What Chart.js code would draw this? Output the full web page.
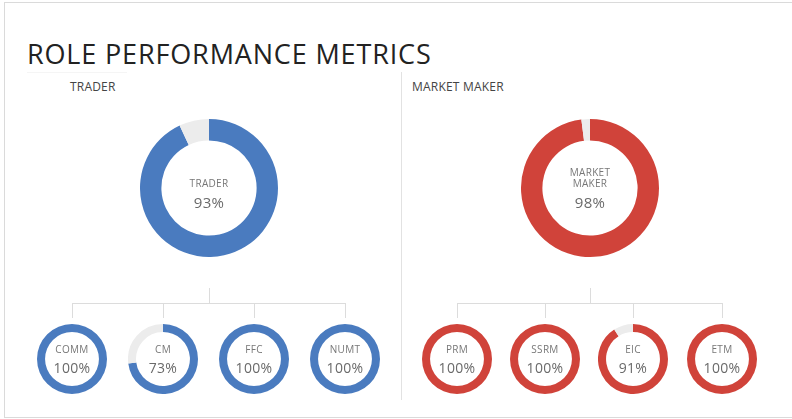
<!DOCTYPE html>
<html>
<head>
<meta charset="utf-8">
<script src="https://cdn.jsdelivr.net/npm/chart.js@4.4.0/dist/chart.umd.min.js"></script>
<style>
  html, body { margin: 0; padding: 0; background: #fff; }
  body { width: 792px; height: 419px; position: relative; overflow: hidden; font-family: "Open Sans", Lato, sans-serif; }
  .frame { position: absolute; left: 4px; top: 2px; width: 800px; height: 414px; border: 1px solid #dadada; }
  .title { position: absolute; left: 27px; top: 35px; font-size: 27px; color: #222; letter-spacing: 0.85px; white-space: nowrap; }
  .role { position: absolute; top: 78px; font-size: 12px; color: #444; letter-spacing: 0.2px; white-space: nowrap; }
  .line { position: absolute; background: #dcdcdc; }
  .donut { position: absolute; }
  .txt { position: absolute; transform: translate(-50%, -50%); text-align: center; white-space: nowrap; color: #707070; line-height: 10px; letter-spacing: 0.3px; }
</style>
</head>
<body>
<div class="frame"></div>
<div class="title">ROLE PERFORMANCE METRICS</div>
<div class="line" style="left:27px;top:72px;width:100px;height:1px;background:#f5f5f5"></div>
<div class="line" style="left:401px;top:72px;width:1px;height:328px;background:#e2e2e2"></div>
<div class="role" style="left:70px">TRADER</div>
<div class="role" style="left:412px">MARKET MAKER</div>
<div id="stage"></div>

<script>
// data
var roles = ["TRADER", "MARKET MAKER"];
var roleCenterLabel = [["TRADER"], ["MARKET", "MAKER"]];
var roleValues = [93, 98];
var roleColors = ["#4a7bbf", "#d0433a"];

var traderLabels = ["COMM", "CM", "FFC", "NUMT"];
var traderValues = [100, 73, 100, 100];
var makerLabels = ["PRM", "SSRM", "EIC", "ETM"];
var makerValues = [100, 100, 91, 100];

var restColor = "#ececec";

// layout
var bigX = [209, 590];
var bigY = 188;
var bigR = 69;
var smallX = [[72, 163, 254, 345], [457, 545, 633, 722]];
var smallY = 359;
var smallR = 35;

var stage = document.getElementById("stage");

function addDiv(cls, style, html) {
  var d = document.createElement("div");
  d.className = cls;
  d.setAttribute("style", style);
  if (html) d.innerHTML = html;
  stage.appendChild(d);
  return d;
}

function makeDonut(cx, cy, r, value, color, cutout) {
  var wrap = addDiv("donut", "left:" + (cx - r) + "px;top:" + (cy - r) + "px;width:" + (2 * r) + "px;height:" + (2 * r) + "px");
  var c = document.createElement("canvas");
  c.width = 2 * r;
  c.height = 2 * r;
  wrap.appendChild(c);
  new Chart(c.getContext("2d"), {
    type: "doughnut",
    data: {
      labels: ["value", "rest"],
      datasets: [{
        data: [value, 100 - value],
        backgroundColor: [color, restColor],
        borderWidth: 0
      }]
    },
    options: {
      responsive: false,
      animation: false,
      cutout: cutout,
      layout: { padding: 0 },
      plugins: { legend: { display: false }, tooltip: { enabled: false } }
    }
  });
}

for (var i = 0; i < roles.length; i++) {
  makeDonut(bigX[i], bigY, bigR, roleValues[i], roleColors[i], "69%");
  var lab = roleCenterLabel[i];
  for (var k = 0; k < lab.length; k++) {
    var ly = (lab.length == 1 ? 183 : 172 + k * 11);
    addDiv("txt", "left:" + bigX[i] + "px;top:" + ly + "px;font-size:10px;color:#777", lab[k]);
  }
  addDiv("txt", "left:" + bigX[i] + "px;top:202px;font-size:15px;line-height:16px;color:#6a6a6a", roleValues[i] + "%");

  // tree connectors
  var xs = smallX[i];
  addDiv("line", "left:" + bigX[i] + "px;top:288px;width:1px;height:15px");
  addDiv("line", "left:" + xs[0] + "px;top:303px;width:" + (xs[3] - xs[0] + 1) + "px;height:1px");
  var labels = i == 0 ? traderLabels : makerLabels;
  var vals = i == 0 ? traderValues : makerValues;
  for (var j = 0; j < xs.length; j++) {
    addDiv("line", "left:" + xs[j] + "px;top:303px;width:1px;height:15px");
    makeDonut(xs[j], smallY, smallR, vals[j], roleColors[i], "77%");
    addDiv("txt", "left:" + xs[j] + "px;top:349px;font-size:10px;color:#777", labels[j]);
    addDiv("txt", "left:" + xs[j] + "px;top:368px;font-size:14px;line-height:16px;color:#6a6a6a", vals[j] + "%");
  }
}
</script>
</body>
</html>
